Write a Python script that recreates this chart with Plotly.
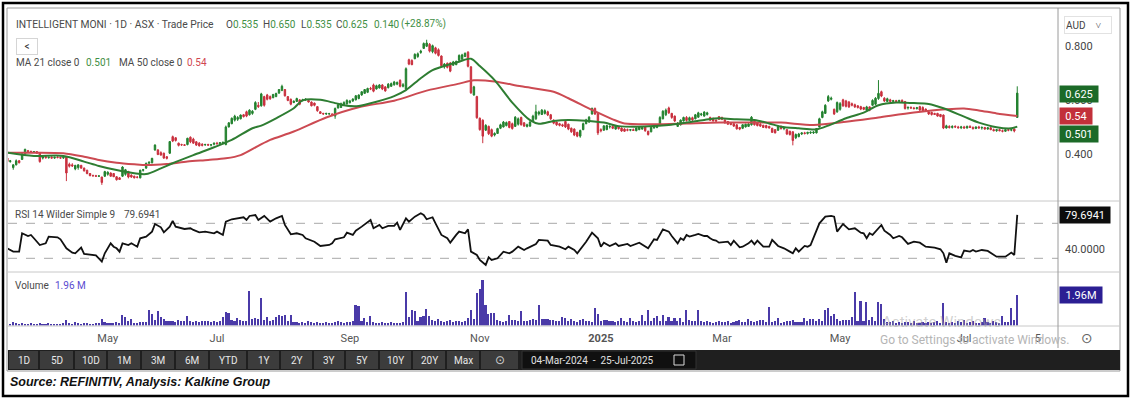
import plotly.graph_objects as go

W, H = 1131, 400


def fx(x):
    return x / W


def fy(y):
    return 1 - y / H


# ---------------- data (prices in thousandths of AUD, volume in thousands) ----------------
first_index = 9  # candle index of the first listed session (index 352 = 25-Jul-2025)

open_k = [
    392, 385, 372, 350, 360, 375, 380, 400, 412, 410,
    408, 409, 403, 385, 390, 386, 388, 385, 388, 387,
    385, 390, 362, 360, 345, 350, 358, 348, 340, 328,
    320, 320, 318, 315, 318, 325, 330, 328, 316, 312,
    318, 325, 335, 322, 318, 315, 312, 340, 348, 366,
    368, 415, 415, 405, 403, 390, 403, 464, 460, 440,
    435, 434, 435, 462, 455, 445, 440, 436, 434, 435,
    433, 436, 440, 438, 440, 435, 500, 512, 525, 528,
    530, 545, 556, 545, 550, 565, 580, 578, 612, 618,
    612, 608, 612, 625, 635, 638, 612, 602, 590, 594,
    600, 598, 600, 598, 592, 588, 575, 556, 550, 548,
    548, 548, 540, 570, 572, 582, 585, 590, 596, 600,
    605, 618, 624, 628, 642, 655, 640, 644, 655, 648,
    645, 650, 656, 658, 672, 650, 640, 748, 745, 752,
    760, 775, 790, 798, 805, 778, 792, 785, 762, 722,
    735, 736, 728, 730, 746, 750, 760, 776, 722, 618,
    612, 532, 525, 488, 502, 490, 470, 476, 495, 500,
    505, 520, 512, 502, 510, 535, 515, 502, 503, 520,
    530, 548, 546, 550, 556, 545, 525, 518, 512, 508,
    520, 510, 495, 492, 480, 466, 490, 512, 518, 548,
    568, 550, 490, 488, 490, 500, 502, 492, 500, 496,
    492, 490, 488, 490, 486, 490, 492, 500, 484, 482,
    496, 498, 505, 530, 545, 570, 550, 540, 502, 508,
    522, 535, 524, 534, 530, 536, 545, 540, 546, 535,
    532, 525, 538, 535, 526, 520, 515, 512, 508, 498,
    495, 500, 502, 508, 522, 515, 510, 506, 505, 502,
    495, 490, 488, 500, 494, 490, 484, 482, 460, 464,
    474, 478, 476, 478, 478, 478, 500, 535, 550, 596,
    602, 565, 556, 565, 600, 596, 592, 586, 582, 578,
    575, 572, 562, 574, 580, 584, 605, 630, 606, 594,
    600, 594, 597, 594, 598, 594, 570, 572, 570, 568,
    575, 572, 566, 556, 554, 550, 550, 546, 544, 496,
    502, 498, 502, 500, 497, 500, 496, 502, 498, 494,
    500, 496, 498, 492, 497, 490, 486, 490, 486, 484,
    490, 488, 492, 535,
]

high_k = [
    395, 388, 378, 362, 380, 378, 405, 420, 415, 412,
    410, 410, 405, 392, 392, 390, 392, 390, 392, 390,
    390, 392, 368, 366, 360, 362, 360, 350, 342, 330,
    324, 323, 322, 316, 338, 336, 332, 330, 318, 315,
    355, 345, 338, 325, 320, 318, 342, 345, 368, 372,
    386, 436, 418, 410, 405, 392, 448, 468, 462, 442,
    438, 437, 460, 465, 460, 448, 444, 440, 438, 438,
    437, 442, 445, 444, 446, 505, 518, 535, 545, 540,
    546, 548, 560, 565, 562, 595, 592, 626, 615, 622,
    616, 622, 626, 640, 656, 640, 614, 605, 598, 608,
    602, 604, 606, 600, 594, 590, 577, 558, 552, 552,
    552, 550, 572, 585, 590, 595, 602, 600, 606, 618,
    620, 632, 640, 645, 648, 660, 656, 658, 658, 650,
    662, 664, 670, 668, 676, 662, 720, 752, 750, 772,
    775, 785, 812, 822, 810, 804, 796, 790, 764, 736,
    738, 740, 744, 745, 768, 770, 775, 780, 724, 652,
    615, 535, 528, 510, 505, 494, 480, 497, 512, 522,
    520, 522, 516, 540, 535, 538, 518, 512, 522, 545,
    582, 560, 566, 565, 560, 548, 528, 520, 515, 512,
    522, 512, 498, 495, 482, 490, 516, 530, 540, 572,
    572, 553, 495, 506, 508, 506, 508, 506, 504, 498,
    495, 494, 492, 494, 498, 502, 500, 502, 486, 500,
    508, 506, 540, 562, 568, 575, 552, 542, 518, 528,
    538, 540, 538, 538, 548, 556, 552, 558, 556, 538,
    534, 528, 540, 538, 528, 522, 518, 514, 510, 500,
    510, 512, 514, 540, 525, 518, 514, 508, 508, 504,
    497, 492, 505, 506, 500, 492, 486, 484, 476, 478,
    480, 482, 482, 484, 484, 496, 534, 560, 584, 618,
    612, 568, 594, 592, 604, 600, 596, 590, 586, 580,
    578, 574, 578, 576, 602, 610, 673, 634, 610, 608,
    604, 600, 600, 600, 602, 596, 576, 576, 574, 574,
    578, 576, 568, 558, 556, 552, 552, 548, 546, 508,
    506, 506, 506, 504, 504, 504, 505, 506, 502, 502,
    504, 502, 500, 500, 500, 494, 492, 494, 490, 492,
    494, 494, 494, 650,
]

low_k = [
    380, 370, 368, 342, 358, 365, 378, 398, 405, 405,
    404, 400, 368, 380, 384, 383, 384, 382, 384, 383,
    382, 300, 350, 352, 340, 342, 345, 335, 325, 318,
    316, 316, 315, 286, 315, 320, 316, 315, 302, 304,
    315, 320, 310, 312, 310, 310, 310, 335, 345, 364,
    365, 412, 396, 394, 382, 380, 400, 444, 446, 428,
    430, 430, 432, 440, 438, 430, 428, 428, 430, 430,
    428, 432, 435, 434, 436, 432, 498, 510, 520, 522,
    528, 535, 536, 542, 545, 562, 570, 575, 575, 598,
    600, 606, 610, 622, 632, 612, 595, 580, 588, 592,
    580, 594, 596, 590, 576, 576, 556, 548, 545, 544,
    545, 540, 530, 568, 570, 580, 582, 586, 592, 598,
    602, 615, 622, 625, 636, 628, 638, 642, 636, 630,
    642, 648, 652, 654, 646, 646, 636, 728, 728, 750,
    755, 770, 788, 795, 775, 772, 768, 760, 722, 715,
    716, 702, 726, 728, 744, 748, 758, 720, 622, 615,
    530, 486, 440, 485, 470, 462, 465, 474, 492, 498,
    502, 495, 490, 500, 505, 505, 500, 498, 500, 518,
    526, 542, 544, 546, 540, 526, 510, 504, 502, 500,
    496, 488, 478, 466, 462, 460, 488, 510, 515, 545,
    544, 470, 480, 486, 488, 494, 492, 490, 490, 482,
    482, 484, 484, 485, 484, 488, 490, 482, 468, 480,
    494, 495, 503, 528, 540, 548, 530, 518, 500, 505,
    520, 520, 522, 522, 528, 534, 540, 538, 542, 522,
    520, 518, 526, 525, 512, 508, 506, 500, 490, 488,
    492, 498, 500, 505, 505, 502, 500, 496, 495, 494,
    478, 476, 485, 490, 488, 470, 468, 432, 455, 462,
    470, 472, 472, 474, 474, 476, 498, 532, 548, 592,
    598, 544, 552, 560, 574, 572, 570, 576, 570, 568,
    562, 562, 558, 558, 578, 580, 600, 610, 592, 592,
    590, 588, 590, 590, 590, 564, 564, 566, 564, 564,
    560, 556, 556, 544, 542, 544, 538, 536, 492, 494,
    494, 494, 496, 494, 492, 494, 494, 496, 490, 492,
    494, 490, 490, 490, 488, 484, 482, 484, 480, 482,
    484, 484, 480, 535,
]

close_k = [
    385, 372, 375, 360, 375, 368, 400, 417, 410, 408,
    409, 403, 372, 390, 386, 388, 385, 388, 387, 385,
    388, 330, 355, 356, 358, 360, 348, 338, 328, 320,
    320, 318, 319, 295, 335, 333, 318, 316, 305, 306,
    352, 342, 315, 315, 312, 314, 340, 342, 366, 370,
    384, 433, 398, 396, 385, 384, 446, 448, 450, 432,
    434, 432, 458, 445, 440, 433, 430, 432, 435, 433,
    434, 440, 438, 442, 443, 500, 515, 532, 540, 535,
    544, 538, 540, 562, 558, 590, 575, 622, 580, 602,
    604, 620, 624, 638, 650, 615, 598, 584, 595, 605,
    584, 600, 602, 592, 578, 580, 560, 550, 548, 550,
    549, 545, 568, 582, 586, 590, 598, 596, 603, 615,
    618, 630, 638, 642, 640, 632, 652, 655, 640, 633,
    658, 660, 666, 664, 650, 656, 715, 732, 730, 768,
    770, 780, 808, 810, 780, 800, 772, 764, 726, 732,
    720, 706, 740, 742, 764, 766, 772, 724, 626, 648,
    534, 490, 466, 506, 475, 466, 476, 494, 508, 518,
    516, 498, 494, 536, 530, 508, 503, 508, 518, 540,
    556, 555, 562, 560, 544, 530, 514, 508, 506, 504,
    500, 492, 482, 470, 466, 487, 512, 526, 536, 568,
    548, 478, 486, 504, 505, 502, 495, 504, 494, 485,
    484, 488, 490, 487, 496, 500, 498, 486, 472, 498,
    505, 503, 535, 558, 562, 552, 535, 522, 514, 525,
    535, 524, 534, 526, 545, 552, 548, 555, 552, 525,
    522, 522, 528, 528, 515, 510, 509, 503, 493, 492,
    508, 510, 511, 536, 508, 505, 503, 498, 497, 496,
    480, 478, 502, 494, 497, 474, 472, 450, 472, 474,
    478, 476, 480, 480, 481, 494, 530, 556, 580, 612,
    606, 548, 590, 586, 578, 576, 574, 580, 574, 572,
    566, 565, 574, 562, 598, 606, 624, 614, 596, 604,
    594, 597, 594, 598, 592, 568, 572, 570, 568, 571,
    562, 560, 558, 548, 546, 546, 540, 538, 496, 504,
    498, 502, 500, 497, 500, 496, 502, 498, 494, 500,
    496, 498, 492, 497, 490, 486, 490, 486, 484, 490,
    488, 490, 485, 625,
]

volume_k = [
    120, 180, 90, 210, 140, 100, 160, 90, 80, 130,
    110, 70, 150, 90, 80, 130, 100, 90, 70, 120,
    130, 370, 150, 90, 200, 160, 120, 180, 140, 110,
    90, 160, 180, 436, 200, 180, 150, 130, 250, 140,
    700, 545, 300, 436, 180, 150, 210, 240, 200, 1020,
    763, 350, 937, 545, 436, 260, 320, 300, 250, 330,
    280, 300, 589, 260, 220, 300, 240, 280, 260, 310,
    240, 280, 200, 260, 545, 872, 807, 330, 300, 500,
    330, 280, 300, 2250, 436, 500, 436, 1790, 380, 550,
    300, 370, 545, 654, 589, 654, 300, 700, 250, 200,
    180, 220, 150, 260, 200, 170, 240, 190, 160, 210,
    180, 150, 230, 280, 200, 170, 240, 220, 260, 1310,
    1240, 300, 500, 250, 610, 200, 150, 180, 220, 130,
    170, 210, 140, 190, 160, 250, 2130, 545, 980, 915,
    280, 545, 590, 1090, 590, 330, 260, 436, 300, 220,
    280, 330, 240, 300, 260, 220, 280, 500, 1020, 400,
    2070, 2330, 2900, 1310, 763, 806, 806, 330, 280, 240,
    300, 654, 330, 330, 280, 937, 300, 280, 370, 436,
    330, 1310, 436, 400, 436, 370, 330, 300, 280, 545,
    500, 300, 436, 260, 220, 330, 436, 300, 280, 240,
    1150, 763, 280, 330, 370, 280, 300, 240, 280, 500,
    260, 220, 500, 280, 240, 300, 654, 260, 980, 280,
    500, 589, 300, 654, 260, 545, 300, 500, 260, 480,
    240, 1020, 330, 280, 300, 980, 280, 220, 260, 240,
    180, 220, 260, 200, 240, 300, 180, 220, 260, 330,
    200, 240, 436, 260, 220, 300, 370, 370, 240, 1200,
    220, 260, 500, 180, 240, 300, 260, 370, 200, 220,
    240, 500, 260, 436, 436, 300, 436, 260, 980, 1150,
    589, 763, 436, 300, 370, 370, 370, 545, 2130, 300,
    1590, 260, 1520, 370, 545, 300, 1520, 1370, 436, 240,
    200, 260, 180, 220, 150, 240, 200, 170, 260, 190,
    140, 220, 180, 240, 160, 200, 280, 150, 1420, 220,
    180, 240, 150, 260, 200, 330, 170, 220, 280, 150,
    190, 240, 500, 200, 160, 260, 220, 180, 589, 240,
    200, 1150, 330, 1960,
]

ma21_idx = [10, 19, 29, 36, 41, 47, 53, 57, 62, 66, 73, 80, 86, 93, 96, 101, 107, 110, 116, 121,
            125, 129, 135, 141, 145, 150, 154, 159, 163, 167, 170, 175, 181, 187, 190, 195, 200, 206, 212, 217,
            223, 229, 234, 240, 246, 251, 257, 263, 268, 272, 278, 284, 288, 294, 300, 305, 311, 317, 322, 327,
            334, 339, 345, 350, 352]
ma21_val = [.405, .393, .393, .372, .356, .341, .329, .326, .347, .366, .396, .425, .452, .495, .505, .532, .569, .598, .600, .588,
            .578, .577, .593, .614, .636, .680, .710, .729, .741, .752, .725, .673, .590, .525, .512, .522, .526, .523, .516, .503,
            .501, .503, .507, .516, .526, .532, .528, .526, .513, .501, .495, .491, .505, .532, .553, .580, .590, .588, .585, .569,
            .538, .516, .499, .495, .501]

ma50_idx = [10, 19, 29, 36, 41, 47, 53, 57, 64, 71, 78, 84, 89, 95, 99, 107, 118, 129, 141, 152,
            163, 168, 175, 184, 195, 200, 208, 215, 219, 229, 240, 251, 263, 272, 283, 294, 305, 317, 328, 334,
            339, 345, 352]
ma50_val = [.405, .405, .403, .390, .378, .368, .362, .359, .363, .372, .378, .384, .396, .430, .452, .483, .535, .573, .597, .634,
            .660, .672, .668, .650, .630, .606, .563, .528, .513, .510, .513, .516, .516, .516, .507, .519, .535, .553, .565, .568,
            .561, .550, .540]

rsi_points = [
    (10, 41.4), (11, 39.5), (12, 37.6), (14, 37.6), (15, 58.6), (17, 55.5), (18, 56.7), (19, 52.9), (21, 45.2), (23, 47.1),
    (24, 54.8), (27, 54.0), (28, 51.7), (30, 41.4), (32, 36.5), (33, 35.7), (35, 42.2), (36, 35.0), (38, 33.8), (40, 33.4),
    (42, 26.2), (43, 35.7), (45, 47.1), (46, 43.3), (47, 41.4), (48, 37.6), (49, 47.1), (51, 45.2), (52, 47.1), (54, 43.3),
    (55, 52.9), (57, 54.8), (59, 60.5), (60, 69.2), (62, 65.4), (63, 59.7), (65, 66.2), (66, 72.7), (67, 66.2), (70, 63.5),
    (72, 64.3), (73, 62.4), (75, 59.7), (77, 60.5), (80, 58.6), (81, 60.5), (83, 56.7), (84, 71.9), (86, 74.6), (88, 75.7),
    (90, 76.9), (91, 73.8), (92, 78.4), (94, 79.5), (95, 73.8), (97, 78.4), (99, 71.9), (101, 75.7), (103, 78.4), (104, 68.1),
    (106, 57.4), (108, 58.6), (110, 56.7), (111, 52.9), (114, 49.0), (116, 44.1), (119, 45.2), (120, 47.1), (121, 51.7), (124, 54.0),
    (125, 59.3), (127, 56.7), (128, 61.5), (130, 66.2), (132, 70.8), (133, 73.8), (134, 64.3), (136, 68.1), (137, 64.3), (139, 67.0),
    (141, 67.0), (142, 70.8), (143, 62.4), (145, 75.7), (146, 71.9), (148, 77.6), (150, 81.4), (151, 79.5), (152, 74.6), (154, 76.9),
    (155, 70.0), (157, 56.7), (159, 52.9), (160, 47.9), (162, 56.7), (163, 60.5), (165, 58.6), (166, 63.1), (167, 37.6), (169, 33.8),
    (170, 28.1), (172, 22.4), (173, 31.1), (174, 28.1), (176, 30.0), (178, 37.6), (180, 35.7), (181, 37.6), (183, 43.3), (185, 39.5),
    (186, 41.4), (189, 46.4), (190, 51.0), (193, 50.2), (194, 45.2), (197, 43.3), (199, 40.3), (200, 43.3), (202, 39.5), (203, 35.7),
    (206, 49.0), (208, 59.3), (210, 52.9), (211, 43.3), (212, 47.9), (214, 44.1), (216, 47.1), (217, 44.1), (220, 46.4), (221, 44.1),
    (224, 47.9), (226, 43.3), (227, 41.4), (229, 51.7), (230, 51.0), (232, 63.1), (234, 60.5), (235, 55.5), (237, 47.1), (238, 52.9),
    (239, 51.0), (240, 56.7), (241, 54.8), (243, 56.7), (244, 57.8), (246, 55.5), (247, 55.5), (248, 52.9), (249, 51.0), (250, 50.2),
    (251, 47.9), (254, 49.0), (255, 45.2), (256, 50.2), (258, 42.6), (259, 43.3), (261, 47.1), (262, 50.2), (263, 46.0), (264, 50.2),
    (266, 43.3), (268, 43.3), (269, 51.0), (271, 44.1), (273, 41.4), (275, 37.6), (276, 35.7), (277, 41.4), (278, 37.6), (280, 44.1),
    (281, 43.3), (282, 45.2), (284, 62.4), (285, 70.0), (287, 77.6), (289, 78.4), (290, 77.6), (291, 60.5), (293, 69.2), (294, 66.2),
    (295, 63.1), (297, 64.3), (299, 59.3), (300, 58.6), (301, 52.9), (302, 58.6), (303, 56.7), (306, 68.1), (307, 61.6), (309, 56.7),
    (310, 52.9), (312, 55.5), (313, 54.0), (315, 46.4), (317, 49.0), (319, 47.9), (321, 43.3), (324, 42.2), (326, 40.3), (327, 35.7),
    (328, 25.0), (329, 35.7), (331, 32.7), (333, 31.1), (334, 38.8), (336, 37.6), (337, 39.5), (338, 37.6), (340, 39.5), (342, 38.4),
    (343, 36.5), (345, 31.9), (346, 31.9), (348, 31.9), (350, 36.5), (351, 33.8), (352, 79.6941),
]
rsi_levels = [70, 30]

x_tick_idx = [44, 81, 126, 170, 211, 252, 292, 334, 359]
x_tick_text = ["May", "Jul", "Sep", "Nov", "<b>2025</b>", "Mar", "May", "Jul", "5"]

price_ticks = [0.4, 0.6, 0.8]
price_tick_text = ["0.400", "0.600", "0.800"]
rsi_ticks = [40]
rsi_tick_text = ["40.0000"]

last_close, last_ma21, last_ma50, last_rsi, last_volume = "0.625", "0.501", "0.54", "79.6941", "1.96M"
header_ohlc = [("O", "0.535"), ("H", "0.650"), ("L", "0.535"), ("C", "0.625"), ("", "0.140"), ("", "(+28.87%)")]

toolbar_buttons = ["1D", "5D", "10D", "1M", "3M", "6M", "YTD", "1Y", "2Y", "3Y", "5Y", "10Y", "20Y", "Max"]

# ---------------- build ----------------
n = len(close_k)
idx = list(range(first_index, first_index + n))
o = [v / 1000 for v in open_k]
h = [v / 1000 for v in high_k]
l = [v / 1000 for v in low_k]
c = [v / 1000 for v in close_k]
vol = [v * 1000 for v in volume_k]
rsi_idx = [p[0] for p in rsi_points]
rsi_val = [p[1] for p in rsi_points]

GREEN = "#23822f"
RED = "#c9303e"
MA21C = "#2e7d32"
MA50C = "#cc4a52"
PURPLE = "#4a3aa8"
FONT = "Roboto"
TXT = "#4a4a4a"
G = "#3f8f45"

fig = go.Figure()
fig.add_trace(go.Candlestick(
    x=idx, open=o, high=h, low=l, close=c,
    increasing=dict(line=dict(color=GREEN, width=1), fillcolor=GREEN),
    decreasing=dict(line=dict(color=RED, width=1), fillcolor=RED),
    whiskerwidth=0, xaxis="x", yaxis="y", hoverinfo="skip", showlegend=False))
fig.add_trace(go.Scatter(x=ma50_idx, y=ma50_val, mode="lines", xaxis="x", yaxis="y",
                         line=dict(color=MA50C, width=2, shape="spline", smoothing=0.8),
                         hoverinfo="skip", showlegend=False))
fig.add_trace(go.Scatter(x=ma21_idx, y=ma21_val, mode="lines", xaxis="x", yaxis="y",
                         line=dict(color=MA21C, width=2, shape="spline", smoothing=0.8),
                         hoverinfo="skip", showlegend=False))
fig.add_trace(go.Scatter(x=rsi_idx, y=rsi_val, mode="lines", xaxis="x", yaxis="y2",
                         line=dict(color="#111111", width=1.8),
                         hoverinfo="skip", showlegend=False))
fig.add_trace(go.Bar(x=idx, y=vol, xaxis="x", yaxis="y3", marker=dict(color=PURPLE, line=dict(width=0)),
                     width=0.55, hoverinfo="skip", showlegend=False))

X0, X1 = 8, 1058
px_per_idx = 2.953
x_origin = -22.2
x_range = [(X0 - x_origin) / px_per_idx, (X1 - x_origin) / px_per_idx]

shapes = []
annotations = []


def hline(y, x0, x1, color="#c8c8c8", width=1, dash=None):
    shapes.append(dict(type="line", xref="paper", yref="paper", x0=fx(x0), x1=fx(x1), y0=fy(y), y1=fy(y),
                       line=dict(color=color, width=width, dash=dash), layer="above"))


def rect(x0, y0, x1, y1, fill=None, line=None, lw=1, layer="below"):
    shapes.append(dict(type="rect", xref="paper", yref="paper", x0=fx(x0), x1=fx(x1), y0=fy(y1), y1=fy(y0),
                       fillcolor=fill, line=dict(color=line if line else "rgba(0,0,0,0)", width=lw if line else 0),
                       layer=layer))


def text(x, y, s, size=10, color=TXT, xanchor="left", family=FONT, **kw):
    annotations.append(dict(x=fx(x), y=fy(y), xref="paper", yref="paper", text=s, showarrow=False,
                            xanchor=xanchor, yanchor="middle", font=dict(size=size, color=color, family=family), **kw))


# frames and separators
rect(7, 8, 1120, 371, fill="white", line="#9a9a9a")
hline(201, 8, 1120)
hline(272, 8, 1120)
hline(326, 8, 1120)
shapes.append(dict(type="line", xref="paper", yref="paper", x0=fx(1058), x1=fx(1058), y0=fy(348), y1=fy(8),
                   line=dict(color="#9a9a9a", width=1)))
for lvl in rsi_levels:
    shapes.append(dict(type="line", xref="paper", yref="y2", x0=fx(X0), x1=fx(X1), y0=lvl, y1=lvl,
                       line=dict(color="#a8a8a8", width=1, dash="dash"), layer="below"))

# toolbar
rect(8, 350, 1120, 370, fill="#1f1f1f", layer="above")
btn_edges = [9, 40, 75, 108, 142, 176, 210, 248, 281, 314, 346, 380, 413, 447, 481]
for i, b in enumerate(toolbar_buttons):
    x0b, x1b = btn_edges[i], btn_edges[i + 1] - 2
    rect(x0b, 351, x1b, 369, fill="#3c3c3c", layer="above")
    text((x0b + x1b) / 2, 360, b, size=10, color="#e8e8e8", xanchor="center")
rect(481, 351, 518, 369, fill="#3c3c3c", layer="above")
text(499.5, 360, "⊙", size=12, color="#d0d0d0", xanchor="center", family="DejaVu Sans")
rect(522, 351, 696, 369, fill="#101010", line="#333333", layer="above")
text(592, 360, "04-Mar-2024  -  25-Jul-2025", size=10, color="#e0e0e0", xanchor="center")
rect(674, 355, 684, 365, line="#d8d8d8", lw=1, layer="above")

# outer black border
rect(3, 3, 1128, 396, line="#000000", lw=2.5, layer="above")

# header texts (each piece at its own place, as in the reference)
text(14, 24, "INTELLIGENT MONI · 1D · ASX · Trade Price", size=10.3)
ohlc_x = [224, 261, 299, 334, 372, 399]
for (lab, val), xx in zip(header_ohlc, ohlc_x):
    text(xx, 24, f"{lab}<span style='color:{G}'>{val}</span>")
text(27, 46, "<", size=10, color="#333", xanchor="center", bgcolor="white", bordercolor="#d5d5d5",
     borderwidth=1, width=18, height=13)
text(14, 62, "MA 21 close 0")
text(84, 62, last_ma21, color=G)
text(117, 62, "MA 50 close 0")
text(185, 62, last_ma50, color="#d0464f")
text(13, 214, "RSI 14 Wilder Simple 9")
text(122, 214, last_rsi)
text(13, 285.5, "Volume")
text(53, 285.5, "1.96 M", color="#5a4bd0")

# AUD selector
text(1064, 25, "AUD&nbsp;&nbsp;&nbsp;&nbsp;˅", size=10, color="#444", bgcolor="white", bordercolor="#e2e2e2",
     borderwidth=1, width=44, height=14, align="left")

# right-side value boxes
text(1059, 94, last_close, size=11, color="white", bgcolor="#1c6a28", width=36, height=14, align="center")
text(1059, 116, last_ma50, size=11, color="white", bgcolor="#c2303a", width=30, height=14, align="center")
text(1059, 133.5, last_ma21, size=11, color="white", bgcolor="#1c6a28", width=36, height=14, align="center")
text(1059, 215, last_rsi, size=11, color="white", bgcolor="#0d0d0d", width=48, height=14, align="center")
text(1059, 295, last_volume, size=11, color="white", bgcolor="#2b1e93", width=40, height=14, align="center")

# gear icon and windows watermark
text(1087, 338, "⊙", size=14, color="#666", xanchor="center", family="DejaVu Sans")
text(880, 322, "Activate Windows", size=15, color="rgba(170,170,170,0.55)")
text(878, 340, "Go to Settings to activate Windows.", size=12, color="#b5b5b5")

# source line
text(8, 382, "<b><i>Source: REFINITIV, Analysis: Kalkine Group</i></b>", size=12.5, color="#111",
     family="Liberation Sans")

fig.update_layout(
    width=W, height=H, margin=dict(l=0, r=0, t=0, b=0),
    paper_bgcolor="white", plot_bgcolor="rgba(0,0,0,0)",
    showlegend=False, bargap=0,
    font=dict(family=FONT, size=11, color="#444"),
    xaxis=dict(domain=[fx(X0), fx(X1)], range=x_range, anchor="y3", tickvals=x_tick_idx, ticktext=x_tick_text,
               ticks="", showgrid=False, zeroline=False, showline=False, rangeslider=dict(visible=False),
               tickfont=dict(family=FONT, size=11, color="#555"), ticklabelstandoff=4),
    yaxis=dict(domain=[fy(201), fy(8)], range=[0.2265, 0.9392], side="right", anchor="x",
               tickvals=price_ticks, ticktext=price_tick_text, ticks="", showgrid=False, zeroline=False,
               showline=False, tickfont=dict(size=11, color="#444"), ticklabelstandoff=6),
    yaxis2=dict(domain=[fy(272), fy(201)], range=[14.34, 95.5], side="right", anchor="x",
                tickvals=rsi_ticks, ticktext=rsi_tick_text, ticks="", showgrid=False, zeroline=False,
                showline=False, tickfont=dict(size=11, color="#444"), ticklabelstandoff=6),
    yaxis3=dict(domain=[fy(325.5), fy(272)], range=[0, 3.44e6], side="right", anchor="x",
                showticklabels=False, ticks="", showgrid=False, zeroline=False, showline=False),
    shapes=shapes, annotations=annotations,
)

fig.write_html("out.html", config={"displayModeBar": False},
               post_script="document.body.style.margin='0px';document.body.style.overflow='hidden';")
